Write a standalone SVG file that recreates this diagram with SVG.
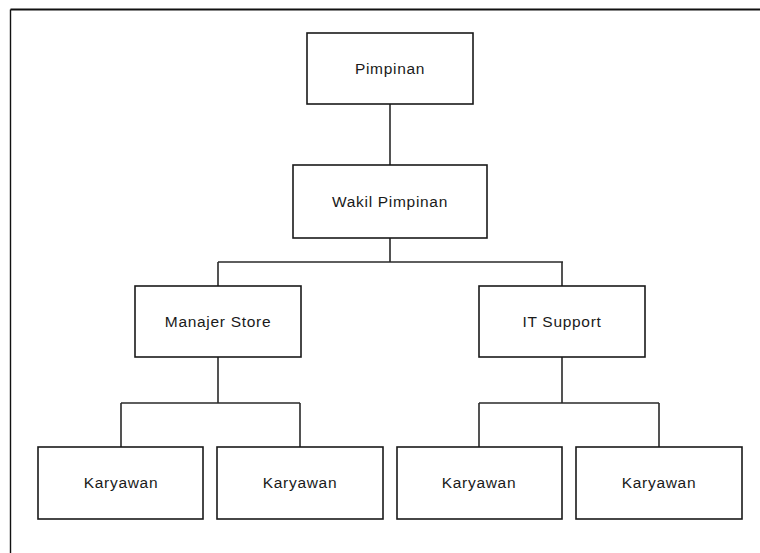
<svg xmlns="http://www.w3.org/2000/svg" width="760" height="553" viewBox="0 0 760 553">
  <style>
    .box { fill: #ffffff; stroke: #1a1a1a; stroke-width: 1.6; }
    .lbl { font-family: "Liberation Sans", Arial, sans-serif; font-size: 15.5px; letter-spacing: 0.7px; fill: #1a1a1a; text-anchor: middle; }
    .conn { fill: none; stroke: #2a2a2a; stroke-width: 1.6; }
    .frame { fill: none; stroke: #111111; }
  </style>
  <rect x="0" y="0" width="760" height="553" fill="#ffffff"/>

  <!-- page frame (top and left edges) -->
  <line class="frame" x1="10.5" y1="9.5" x2="760" y2="9.5" stroke-width="2"/>
  <line class="frame" x1="10.5" y1="9.5" x2="10.5" y2="553" stroke-width="1.4"/>

  <g id="connectors">
    <path class="conn" d="M390 104 V165"/>
    <path class="conn" d="M390 238 V262 M218 262 H563 M218 262 V286 M562 262 V286"/>
    <path class="conn" d="M218 357 V403 M121 403 H300 M121 403 V447 M300 403 V447"/>
    <path class="conn" d="M562 357 V403 M479 403 H659 M479 403 V447 M659 403 V447"/>
  </g>

  <g id="pimpinan">
    <rect class="box" x="307" y="33" width="166" height="71"/>
    <text class="lbl" x="390" y="74">Pimpinan</text>
  </g>
  <g id="wakil-pimpinan">
    <rect class="box" x="293" y="165" width="194" height="73"/>
    <text class="lbl" x="390" y="207">Wakil Pimpinan</text>
  </g>
  <g id="manajer-store">
    <rect class="box" x="135" y="286" width="166" height="71"/>
    <text class="lbl" x="218" y="327">Manajer Store</text>
  </g>
  <g id="it-support">
    <rect class="box" x="479" y="286" width="166" height="71"/>
    <text class="lbl" x="562" y="327">IT Support</text>
  </g>
  <g id="karyawan-1">
    <rect class="box" x="38" y="447" width="165" height="72"/>
    <text class="lbl" x="121" y="488">Karyawan</text>
  </g>
  <g id="karyawan-2">
    <rect class="box" x="217" y="447" width="166" height="72"/>
    <text class="lbl" x="300" y="488">Karyawan</text>
  </g>
  <g id="karyawan-3">
    <rect class="box" x="397" y="447" width="165" height="72"/>
    <text class="lbl" x="479" y="488">Karyawan</text>
  </g>
  <g id="karyawan-4">
    <rect class="box" x="576" y="447" width="166" height="72"/>
    <text class="lbl" x="659" y="488">Karyawan</text>
  </g>
</svg>
